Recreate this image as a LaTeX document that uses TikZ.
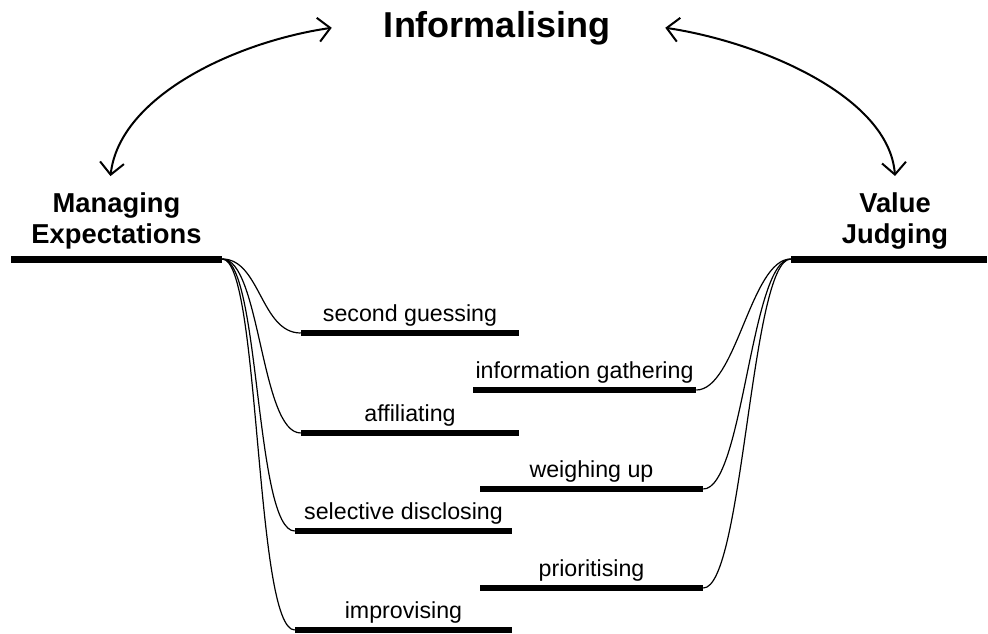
\documentclass[tikz,border=0pt]{standalone}
\usepackage{fontspec}
\setmainfont{Liberation Sans}
\usetikzlibrary{arrows.meta,positioning}

\begin{document}
\begin{tikzpicture}[
  x=0.75pt, y=-0.75pt,
  bar/.style={rectangle, fill=black, inner sep=0pt, minimum width=#1, minimum height=4.5pt},
  mainbar/.style={bar=#1, minimum height=5.25pt},
  head/.style={font=\fontsize{20.5}{23.25}\selectfont\bfseries, align=center, inner sep=0pt},
  lbl/.style={font=\fontsize{17.4}{20}\selectfont, inner sep=0pt, text depth=0pt},
  branch/.style={line width=0.9pt},
  link/.style={line width=1.5pt, {Straight Barb[length=9pt,width=18pt]}-{Straight Barb[length=9pt,width=18pt]}},
]
  \useasboundingbox (0,0) rectangle (988,633);

  \node[anchor=base, inner sep=0pt, font=\fontsize{27}{32}\selectfont\bfseries] (inf) at (497,37) {Informalising};

  \node[mainbar=158.25pt] (me) at (116.5,259) {};
  \node[head, above=4.6pt of me] (mehead) {Managing\\Expectations};
  \node[mainbar=147pt] (vj) at (889,259) {};
  \node[head, above=4.6pt of vj, xshift=4.5pt] (vjhead) {Value\\Judging};

  \node[bar=163.5pt] (sg) at (410,333) {};
  \node[lbl, above=6pt of sg] (sgt) {second guessing};
  \node[bar=167.25pt] (ig) at (584.5,390) {};
  \node[lbl, above=6pt of ig] (igt) {information gathering};
  \node[bar=163.5pt] (af) at (410,433) {};
  \node[lbl, above=6pt of af] (aft) {affiliating};
  \node[bar=167.25pt] (wu) at (591.5,489) {};
  \node[lbl, above=6pt of wu] (wut) {weighing up};
  \node[bar=162.75pt] (sd) at (403.5,531) {};
  \node[lbl, above=6pt of sd] (sdt) {selective disclosing};
  \node[bar=167.25pt] (pr) at (591.5,588) {};
  \node[lbl, above=6pt of pr] (prt) {prioritising};
  \node[bar=162.75pt] (im) at (403.5,630) {};
  \node[lbl, above=6pt of im] (imt) {improvising};

  \draw[link] ([xshift=-39pt]inf.west) .. controls +(-96,14) and +(9,-80) .. ([xshift=-4.5pt,yshift=12pt]mehead.north);
  \draw[link] ([xshift=41.25pt]inf.east) .. controls +(94,14) and +(-6,-80) .. ([yshift=12pt]vjhead.north);

  \draw[branch] (me.east) .. controls +(38,0) and +(-40,0) .. (sg.west);
  \draw[branch] (me.east) .. controls +(38,0) and +(-40,0) .. (af.west);
  \draw[branch] (me.east) .. controls +(38,0) and +(-40,0) .. (sd.west);
  \draw[branch] (me.east) .. controls +(38,0) and +(-40,0) .. (im.west);
  \draw[branch] (vj.west) .. controls +(-40,0) and +(40,0) .. (ig.east);
  \draw[branch] (vj.west) .. controls +(-40,0) and +(40,0) .. (wu.east);
  \draw[branch] (vj.west) .. controls +(-40,0) and +(40,0) .. (pr.east);
\end{tikzpicture}
\end{document}
